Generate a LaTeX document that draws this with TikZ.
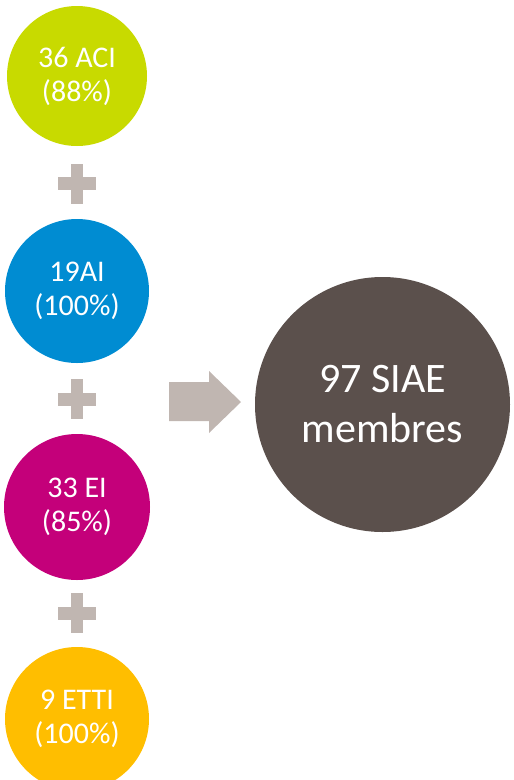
\documentclass[tikz,border=0pt]{standalone}
\usepackage{fontspec}
\setmainfont{Carlito}
\definecolor{aciGreen}{RGB}{200,218,0}
\definecolor{aiBlue}{RGB}{0,140,210}
\definecolor{eiMagenta}{RGB}{196,0,122}
\definecolor{ettiAmber}{RGB}{255,190,0}
\definecolor{siaeBrown}{RGB}{91,80,76}
\definecolor{signGrey}{RGB}{192,182,177}
\tikzset{
  member/.style={circle, inner sep=0pt, minimum size=144pt, text=white, align=center,
    font=\fontsize{30}{34}\selectfont},
  total/.style={circle, inner sep=0pt, minimum size=255pt, text=white, align=center,
    fill=siaeBrown, font=\fontsize{42}{50}\selectfont},
}
\begin{document}
\begin{tikzpicture}[x=1pt,y=-1pt]
        \useasboundingbox (0,0) rectangle (514,780);
        \clip (0,0) rectangle (514,780);
        % structures
        \node[member, fill=aciGreen, minimum size=140pt] (aci) at (77,76) {36 ACI\\(88\%)};
        \node[member, fill=aiBlue] (ai) at (77,291) {19AI\\(100\%)};
        \node[member, fill=eiMagenta, minimum size=146pt] (ei) at (77,507) {33 EI\\(85\%)};
        \node[member, fill=ettiAmber] (etti) at (77,719) {9 ETTI\\(100\%)};
        % plus signs
        \foreach \y in {183.5,399,613}{
          \fill[signGrey] (71,\y-20) rectangle (83,\y+20);
          \fill[signGrey] (58,\y-6.5) rectangle (96,\y+6.5);
        }
        % arrow
        \fill[signGrey] (169,382) -- (209,382) -- (209,371) -- (241,402) -- (209,433) -- (209,421) -- (169,421) -- cycle;
        % total
        \node[total] (siae) at (382.5,404.5) {97 SIAE\\membres};
      \end{tikzpicture}
\end{document}
